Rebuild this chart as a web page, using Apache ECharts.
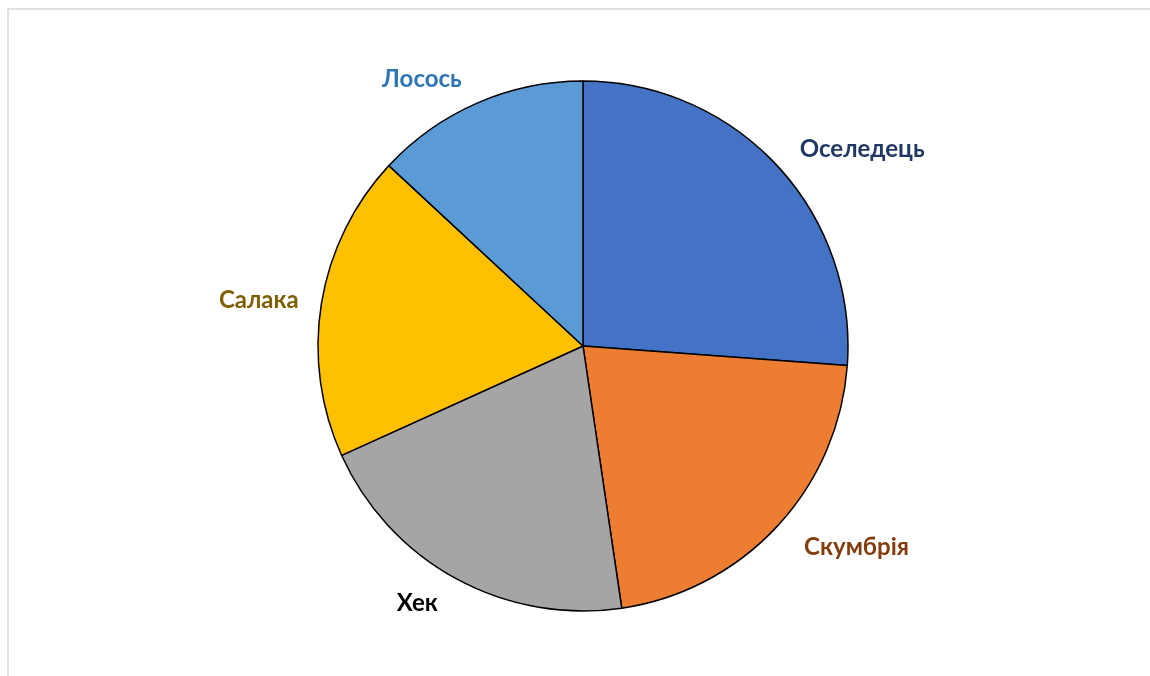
<!DOCTYPE html>
<html>
<head>
<meta charset="utf-8">
<script src="https://cdn.jsdelivr.net/npm/echarts@6/dist/echarts.min.js"></script>
<style>
html,body{margin:0;padding:0;background:#fff;}
#chart{width:1150px;height:676px;}
</style>
</head>
<body>
<div id="chart"></div>
<script>
const categories = ['Оселедець', 'Скумбрія', 'Хек', 'Салака', 'Лосось'];
const values = [28, 23, 22, 20, 14];
const sliceColors = ['#4472C4', '#ED7D31', '#A5A5A5', '#FFC000', '#5B9BD5'];
const labelColors = ['#203864', '#843C0C', '#000000', '#7F6000', '#2E75B6'];
const labelLens = [24, 30, 28, 18, 26];

const chart = echarts.init(document.getElementById('chart'));
chart.setOption({
  backgroundColor: '#ffffff',
  animation: false,
  graphic: [{
    type: 'rect',
    shape: {x: 8, y: 9, width: 1300, height: 800},
    style: {fill: 'none', stroke: '#d9d9d9', lineWidth: 1.5},
    silent: true
  }],
  series: [{
    type: 'pie',
    center: [583, 346],
    radius: [0, 265],
    startAngle: 90,
    clockwise: true,
    avoidLabelOverlap: false,
    data: categories.map((name, i) => ({
      name: name,
      value: values[i],
      itemStyle: {color: sliceColors[i]},
      label: {color: labelColors[i]},
      labelLine: {length: labelLens[i]}
    })),
    itemStyle: {
      borderColor: '#000',
      borderWidth: 1.5
    },
    label: {
      show: true,
      position: 'outside',
      formatter: '{b}',
      fontFamily: 'Lato',
      fontWeight: 'bold',
      fontSize: 24
    },
    labelLine: {show: false, length: 26, length2: 0},
    emphasis: {disabled: true}
  }]
});
</script>
</body>
</html>
